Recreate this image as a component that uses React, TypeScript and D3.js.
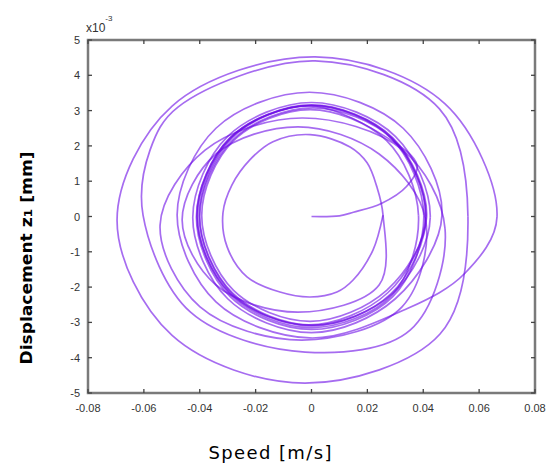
import React from "react";
import * as d3 from "d3";

// Phase trajectory: speed (m/s) vs displacement z1 (×10^-3 mm), traced turn by turn.
const launchPath: [number, number][] = [
  [0, 0], [0.01, 0.02], [0.015, 0.12], [0.025, 0.37], [0.034, 0.85], [0.0378, 1.45],
];
const bandTurn1: [number, number][] = [
  [0.0273, 2.22], [-0.001, 3.13], [-0.0293, 2.22], [-0.041, 0.03], [-0.0293, -2.16], [-0.001, -3.07], [0.0273, -2.16],
];
const bandTurn2: [number, number][] = [
  [0.0408, 0], [0.0288, 2.23], [0, 3.15], [-0.0288, 2.23], [-0.0408, 0], [-0.0288, -2.23], [0, -3.15], [0.0288, -2.23],
];
const bandTurn3: [number, number][] = [
  [0.0383, 0.03], [0.0269, 2.15], [-0.0005, 3.03], [-0.0279, 2.15], [-0.0393, 0.03], [-0.0279, -2.09], [-0.0005, -2.97], [0.0269, -2.09],
];
const bandTurn4: [number, number][] = [
  [0.0412, -0.02], [0.0291, 2.23], [0, 3.16], [-0.0291, 2.23], [-0.0412, -0.02], [-0.0291, -2.27], [0, -3.2], [0.0291, -2.27],
];
const bandTurn5: [number, number][] = [
  [0.0402, 0.02], [0.0284, 2.23], [0, 3.14], [-0.0284, 2.23], [-0.0402, 0.02], [-0.0284, -2.19], [0, -3.1], [0.0284, -2.19],
];
const bandTurn6: [number, number][] = [
  [0.041, 0], [0.0291, 2.18], [0.0005, 3.08], [-0.0281, 2.18], [-0.04, 0], [-0.0281, -2.18], [0.0005, -3.08], [0.0291, -2.18],
];
const bandTurn7: [number, number][] = [
  [0.0425, -0.03], [0.03, 2.27], [0, 3.23], [-0.03, 2.27], [-0.0425, -0.03], [-0.03, -2.33], [0, -3.29], [0.03, -2.33],
];
const widenTurn: [number, number][] = [
  [0.0467, 0.04], [0.0328, 2.5], [-0.0007, 3.52], [-0.0342, 2.5], [-0.0481, 0.04], [-0.0342, -2.42], [-0.0007, -3.44], [0.0345, -2.6],
  [0.055, -1.6],
];
const outerTurn: [number, number][] = [
  [0.0664, -0.01], [0.0478, 3.19], [0.0013, 4.52], [-0.0499, 3.13], [-0.0696, -0.1], [-0.0499, -3.37], [-0.0023, -4.72], [0.046, -3.33],
];
const returnTurn: [number, number][] = [
  [0.056, 0], [0.0458, 3.05], [0.0013, 4.41], [-0.0478, 3.1], [-0.0578, 1.88], [-0.0603, 0.04], [-0.0433, -2.71], [-0.0023, -3.84], [0.0353, -3.22],
];
const settleTurn1: [number, number][] = [
  [0.0478, -0.35], [0.0327, 1.88], [-0.0034, 2.79], [-0.0381, 1.88], [-0.0542, -0.24], [-0.0399, -2.56], [-0.0034, -3.5], [0.0324, -2.56],
];
const settleTurn2: [number, number][] = [
  [0.0408, -0.07], [0.0242, 1.77], [-0.0048, 2.54], [-0.0342, 1.77], [-0.0463, -0.1], [-0.0342, -1.94], [-0.0048, -2.71], [0.0242, -1.94],
];
const innerTurn: [number, number][] = [
  [0.0256, 0.04], [0.0234, 0.84], [0.0199, 1.52], [0.0138, 1.97], [-0.0005, 2.32], [-0.0138, 2.12], [-0.022, 1.61],
  [-0.0285, 0.89], [-0.0317, 0.1], [-0.0302, -0.86], [-0.0231, -1.71], [-0.0113, -2.14], [-0.0005, -2.28],
  [0.0091, -2.14], [0.0149, -1.8], [0.022, -0.95], [0.0256, 0.04],
];

const trajectoryTurns = [
  launchPath, bandTurn1, bandTurn2, bandTurn3, bandTurn4, bandTurn5, bandTurn6, bandTurn7,
  widenTurn, outerTurn, returnTurn, settleTurn1, settleTurn2, innerTurn,
];

const xTicks = [-0.08, -0.06, -0.04, -0.02, 0, 0.02, 0.04, 0.06, 0.08];
const xTickLabels = ["-0.08", "-0.06", "-0.04", "-0.02", "0", "0.02", "0.04", "0.06", "0.08"];
const yTicks = [5, 4, 3, 2, 1, 0, -1, -2, -3, -4, -5];
const yTickLabels = ["5", "4", "3", "2", "1", "0", "-1", "-2", "-3", "-4", "-5"];

const W = 553;
const H = 471;
const plot = { left: 88, right: 535, top: 40, bottom: 393 };

export default function App() {
  const x = d3.scaleLinear().domain([-0.08, 0.08]).range([plot.left, plot.right]);
  const y = d3.scaleLinear().domain([-5, 5]).range([plot.bottom, plot.top]);
  const line = d3
    .line<[number, number]>()
    .x((d) => x(d[0]))
    .y((d) => y(d[1]))
    .curve(d3.curveCatmullRom.alpha(0.5));

  // One smooth curve through every point, then cut into one path per turn
  // (each cubic span belongs to the turn it starts in) so that overlapping
  // turns build up a darker band.
  const allPoints = trajectoryTurns.flat();
  const spans = (line(allPoints) || "").split("C").slice(1);
  const segments: string[] = [];
  let start = 0;
  trajectoryTurns.forEach((turn, i) => {
    const isLast = i === trajectoryTurns.length - 1;
    const count = isLast ? turn.length - 1 : turn.length;
    const p = allPoints[start];
    const d = `M${x(p[0])},${y(p[1])}` + spans.slice(start, start + count).map((s) => "C" + s).join("");
    segments.push(d);
    start += turn.length;
  });

  const tickFont = { fontFamily: "Liberation Sans, Arial, sans-serif", fontSize: 11, fill: "#333" };

  return (
    <svg width={W} height={H} style={{ position: "absolute", left: 0, top: 0, background: "#fff" }}>
      <rect x={0} y={0} width={W} height={H} fill="#fff" />
      <g fill="none" stroke="#6a0ae6" strokeOpacity={0.6} strokeWidth={1.7} strokeLinejoin="round">
        {segments.map((d, i) => (
          <path key={i} d={d} />
        ))}
      </g>

      <rect
        x={plot.left}
        y={plot.top}
        width={plot.right - plot.left}
        height={plot.bottom - plot.top}
        fill="none"
        stroke="#7a7a7a"
        strokeWidth={2.5}
      />

      <g stroke="#444" strokeWidth={1.3}>
        {xTicks.map((t) => (
          <g key={"xt" + t}>
            <line x1={x(t)} x2={x(t)} y1={plot.bottom} y2={plot.bottom - 4} />
            <line x1={x(t)} x2={x(t)} y1={plot.top} y2={plot.top + 4} />
          </g>
        ))}
        {yTicks.map((t) => (
          <g key={"yt" + t}>
            <line x1={plot.left} x2={plot.left + 4} y1={y(t)} y2={y(t)} />
            <line x1={plot.right} x2={plot.right - 4} y1={y(t)} y2={y(t)} />
          </g>
        ))}
      </g>

      <g {...tickFont} textAnchor="middle">
        {xTicks.map((t, i) => (
          <text key={"xl" + t} x={x(t)} y={plot.bottom + 19}>
            {xTickLabels[i]}
          </text>
        ))}
      </g>
      <g {...tickFont} textAnchor="end">
        {yTicks.map((t, i) => (
          <text key={"yl" + t} x={plot.left - 8} y={y(t) + 4}>
            {yTickLabels[i]}
          </text>
        ))}
      </g>

      <text x={86} y={32} {...tickFont} fontSize={12}>
        x10
        <tspan fontSize={8} dy={-11}>
          -3
        </tspan>
      </text>

      <text
        x={270}
        y={459}
        textAnchor="middle"
        fontFamily="DejaVu Sans, Verdana, sans-serif"
        fontSize={18}
        fill="#000"
        textLength={123}
        lengthAdjust="spacing"
      >
        Speed [m/s]
      </text>

      <text
        transform="translate(32,258) rotate(-90)"
        textAnchor="middle"
        fontFamily="DejaVu Sans, Verdana, sans-serif"
        fontWeight="bold"
        fontSize={15}
        fill="#000"
        textLength={213}
        lengthAdjust="spacingAndGlyphs"
      >
        Displacement z<tspan fontSize={11}>1</tspan> [mm]
      </text>
    </svg>
  );
}
